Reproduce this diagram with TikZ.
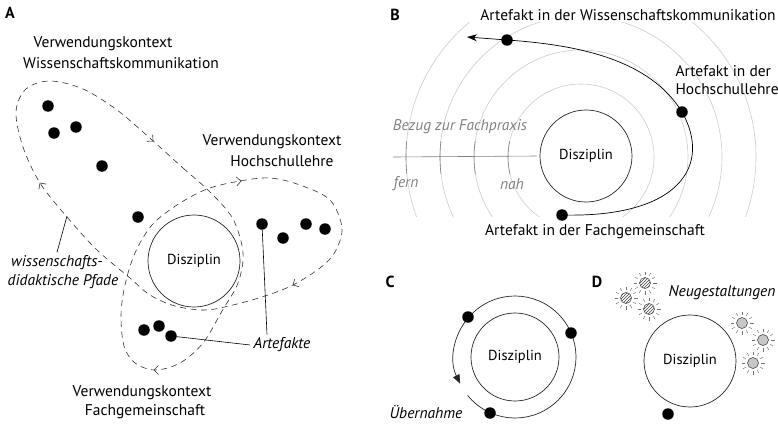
\documentclass[tikz,border=0pt]{standalone}
\usepackage{fontspec}
\setmainfont{PT Sans}
\usetikzlibrary{arrows.meta,patterns}

\begin{document}
\begin{tikzpicture}[x=1pt,y=-1pt,
        every node/.style={font=\fontsize{15.5}{18.5}\selectfont},
        panel/.style={font=\fontsize{16}{18}\selectfont\bfseries},
        note/.style={font=\fontsize{15.5}{18.5}\selectfont\itshape},
        disc/.style={circle,draw=black!85,line width=0.7pt,minimum size=92pt,inner sep=0pt,font=\fontsize{14.5}{17}\selectfont},
        dot/.style={circle,fill=black,inner sep=0pt,minimum size=11.5pt},
        pfad/.style={black!80,line width=0.6pt,dash pattern=on 6pt off 4.5pt},
        ring/.style={black!20,line width=0.6pt},
        hatch/.style={pattern=north east lines,pattern color=black!75},
        stipple/.style={fill=black!22},
        chev/.pic={\draw[black!80,line width=0.6pt] (-4.5,-4.5)--(0,0)--(-4.5,4.5);},
        sun/.pic={
          \foreach \a in {0,30,...,330} \draw[black!55,line width=0.45pt] (\a:8) -- (\a:11.5);
          \draw[black!80,line width=0.5pt,#1] (0,0) circle (5.5);}]
        \useasboundingbox (0,0) rectangle (778,431);

        % A
        \node[panel] (labA) at (10,13) {A};
        \node[disc] (diszA) at (194,261) {Disziplin};
        \draw[pfad] plot[smooth cycle,tension=0.55] coordinates {
          (152,140) (183,168) (210,192) (233,219) (243,253) (238,283) (222,311) (203,343)
          (180,363) (155,370) (135,363) (124,346) (121,315) (125,285) (135,253) (152,225)
          (177,205) (207,189) (240,181) (270,178) (300,185) (330,200) (342,228) (335,252)
          (320,268) (293,285) (265,296) (233,305) (205,310) (175,306) (150,295) (130,278)
          (97,250) (67,217) (40,183) (23,147) (16,112) (26,89) (50,81) (83,89) (117,110)};
        \pic[rotate=-42] at (153,141) {chev};
        \pic[rotate=125] at (40,183) {chev};
        \pic[rotate=5] at (241,181) {chev};
        \pic[rotate=-151] at (293,285) {chev};
        \pic[rotate=180] at (154,370) {chev};
        \node[dot] (w1) at (48,106) {};
        \node[dot] (w2) at (54,133) {};
        \node[dot] (w3) at (76,127) {};
        \node[dot] (w4) at (102,166) {};
        \node[dot] (w5) at (138,217) {};
        \node[dot] (h1) at (262,224) {};
        \node[dot] (h2) at (283,238) {};
        \node[dot] (h3) at (306,224) {};
        \node[dot] (h4) at (325,229) {};
        \node[dot] (f1) at (144,330) {};
        \node[dot] (f2) at (159,326) {};
        \node[dot] (f3) at (171,336) {};
        \node (vkW1) at (103,44) {Verwendungskontext};
        \node (vkW2) at (121,63) {Wissenschaftskommunikation};
        \node (vkH1) at (272,142) {Verwendungskontext};
        \node (vkH2) at (282,161) {Hochschullehre};
        \node (vkF1) at (142,393) {Verwendungskontext};
        \node (vkF2) at (145,412) {Fachgemeinschaft};
        \node[note] (pfade1) at (57,263) {wissenschafts-};
        \node[note] (pfade2) at (63,282) {didaktische Pfade};
        \coordinate (pfadW) at (67,216);
        \draw[line width=0.6pt] (pfade1.north) -- (pfadW);
        \node[note] (artA) at (282,345) {Artefakte};
        \draw[line width=0.6pt] (f3) -- (artA.west);
        \draw[line width=0.6pt] (h1) -- ([xshift=-15pt]artA.north);

        % B
        \node[panel] (labB) at (395,15) {B};
        \begin{scope}
          \clip (385,22) rectangle (778,216);
          \foreach \r in {73,107,141,175} \draw[ring] (581,157) circle (\r);
        \end{scope}
        \begin{scope}
          \clip (385,141) rectangle (530,173);
          \foreach \r in {73,107,141,175} \draw[black!50,line width=0.6pt] (581,157) circle (\r);
        \end{scope}
        \node[disc] (diszB) at (586,156) {Disziplin};
        \coordinate (axL) at (393,157);
        \draw[black!50,line width=0.6pt] (axL) -- ([xshift=-3pt]diszB.west);
        \node[note,black!50] (bezug) at (460,127) {Bezug zur Fachpraxis};
        \node[note,black!50] (fern) at (406,184) {fern};
        \node[note,black!50] (nah) at (512,184) {nah};
        \node[dot] (fgB) at (562,215) {};
        \node[dot] (hsB) at (682,112) {};
        \node[dot] (wkB) at (507,40) {};
        \coordinate (tipB) at (467,37);
        \draw[line width=0.7pt,-{Stealth[length=10pt,width=7pt]}] (fgB.center)
          .. controls (680,218) and (712,165) .. (hsB.center)
          .. controls (650,60) and (580,45) .. (wkB.center) -- (tipB);
        \node (artWk) at (628,15) {Artefakt in der Wissenschaftskommunikation};
        \node[align=left,anchor=west] (artHs) at (672,80) {Artefakt in der\\Hochschullehre};
        \node (artFg) at (595,232) {Artefakt in der Fachgemeinschaft};

        % C
        \node[panel] (labC) at (390,282) {C};
        \node[disc,minimum size=88pt] (diszC) at (515,357) {Disziplin};
        \draw[black!85,line width=0.7pt,-{Triangle[length=9pt,width=7pt]}] (diszC.center) ++(-219:61)
          arc[start angle=-219,end angle=-566,radius=61];
        \node[dot] (c1) at (468,317) {};
        \node[dot] (c2) at (571,333) {};
        \node[dot] (c3) at (490,413) {};
        \node[note] (ueber) at (426,412) {Übernahme};

        % D
        \node[panel] (labD) at (597,282) {D};
        \node[disc] (diszD) at (690,361) {Disziplin};
        \node[dot] (d1) at (668,414) {};
        \node[note] (neu) at (722,293) {Neugestaltungen};
        \pic at (645,283) {sun=hatch};
        \pic at (626,298) {sun=hatch};
        \pic at (649,309) {sun=hatch};
        \pic at (742,323) {sun=stipple};
        \pic at (763,340) {sun=stipple};
        \pic at (753,363) {sun=stipple};
      \end{tikzpicture}
\end{document}
